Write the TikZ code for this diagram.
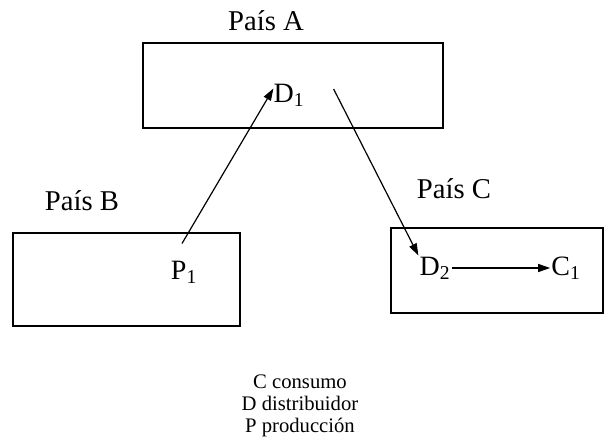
\documentclass[tikz,border=0pt]{standalone}
\usepackage{fontspec}
\setmainfont{Liberation Serif}
\usetikzlibrary{arrows.meta}

\tikzset{
  pais/.style={inner sep=0.75pt, font=\fontsize{21.5}{24}\selectfont},
  agente/.style={inner sep=0.75pt, font=\fontsize{21}{24}\selectfont},
  flujo/.style={-{Triangle[length=9pt,width=6pt]}, line width=0.9pt},
  caja/.style={line width=1.1pt}
}

\begin{document}
\begin{tikzpicture}[x=0.75pt,y=0.75pt,yscale=-1,xscale=1]
\useasboundingbox (0,0) rectangle (604,445);

%Shape: Rectangle [País A]
\draw [caja] (143,43) rectangle (443,128);
%Shape: Rectangle [País B]
\draw [caja] (13,233) rectangle (240,326);
%Shape: Rectangle [País C]
\draw [caja] (391,228) rectangle (603,313);

% Text Node
\node [pais] (paisA) at (266,21) {País A};
\node [pais] (paisB) at (82,201) {País B};
\node [pais] (paisC) at (454,189) {País C};

% Text Node
\node [agente] (D1) at (289,95) {D\textsubscript{1}};
\node [agente] (P1) at (184,272) {P\textsubscript{1}};
\node [agente] (D2) at (435,268) {D\textsubscript{2}};
\node [agente] (C1) at (566,268) {C\textsubscript{1}};

%Straight Lines
\draw [flujo] (P1.north) ++(-2,-16) coordinate (p1s) (D1.north west) ++(1,6) coordinate (d1e) (p1s) -- (d1e);
\draw [flujo] (D1.east) ++(28,-6) coordinate (d1s) (d1s) -- (D2.north west);
\draw [flujo] (D2.east) -- (C1.west);

% Text Node
\node [inner sep=0pt, align=center, font=\fontsize{15.5}{16.5}\selectfont] (leyenda) at (300,406)
  {C consumo\\D distribuidor\\P producción};

\end{tikzpicture}
\end{document}
